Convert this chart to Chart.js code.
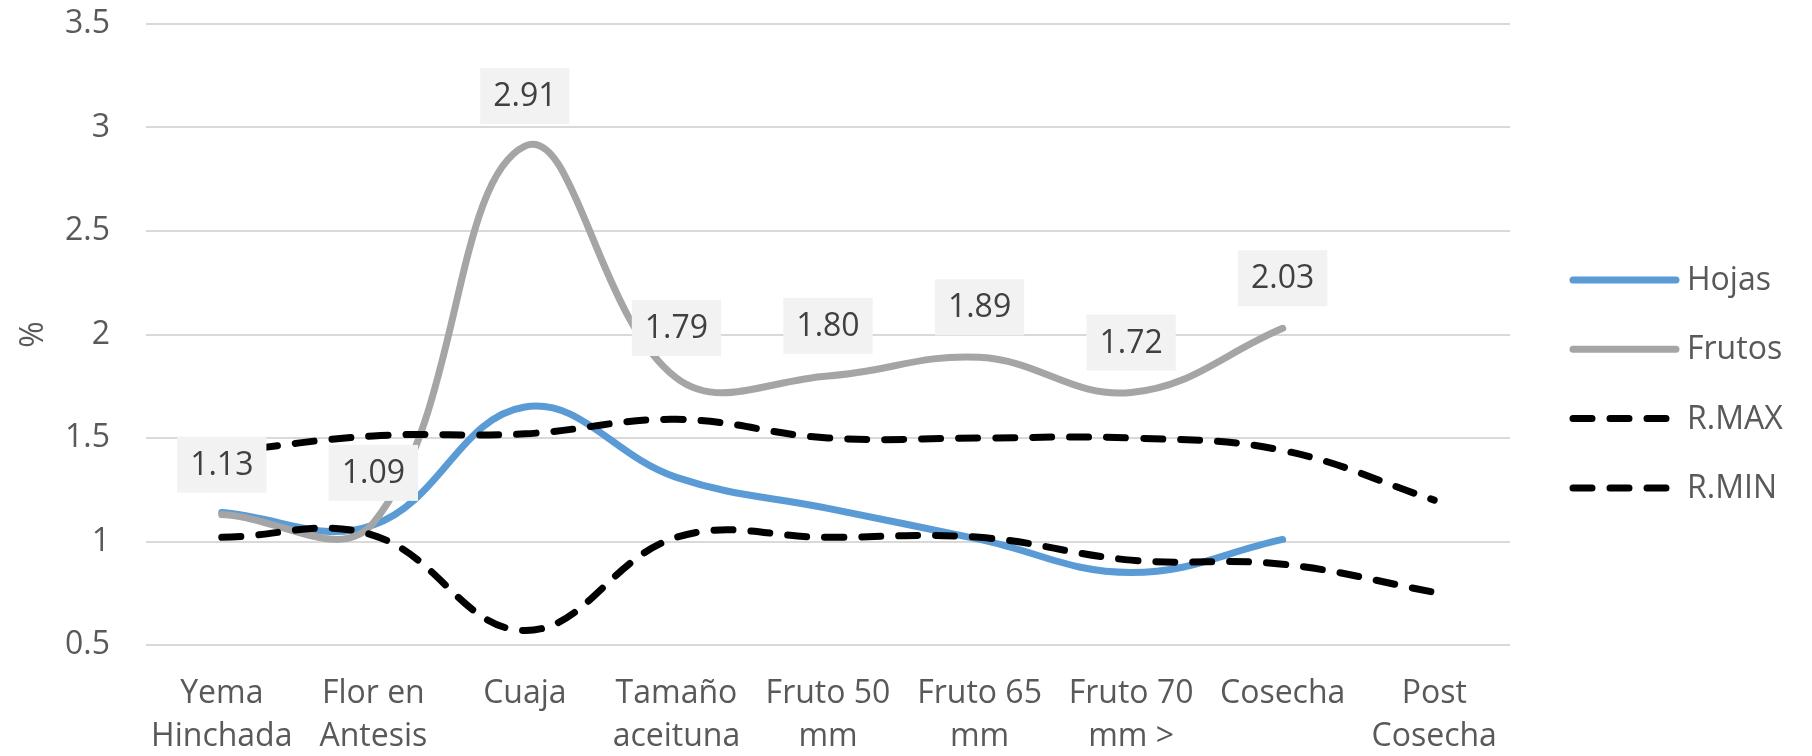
<!DOCTYPE html>
<html>
<head>
<meta charset="utf-8">
<script src="https://cdn.jsdelivr.net/npm/chart.js@4.4.1/dist/chart.umd.min.js"></script>
<style>
  html, body { margin: 0; padding: 0; background: #fff; }
  #wrap { width: 1812px; height: 756px; }
</style>
</head>
<body>
<div id="wrap"><canvas id="nutrientChart"></canvas></div>
<script>
// Etapas fenológicas (eje X)
const etapas = [
    ['Yema', 'Hinchada'], ['Flor en', 'Antesis'], 'Cuaja', ['Tamaño', 'aceituna'],
    ['Fruto 50', 'mm'], ['Fruto 65', 'mm'], ['Fruto 70', 'mm >'], 'Cosecha', ['Post', 'Cosecha']
];

// Concentración (%) por etapa
const hojas  = [1.14, 1.08, 1.65, 1.31, 1.16, 1.01, 0.85, 1.01, null];
const frutos = [1.13, 1.09, 2.91, 1.79, 1.80, 1.89, 1.72, 2.03, null];
const rMax   = [1.43, 1.51, 1.52, 1.59, 1.50, 1.50, 1.50, 1.44, 1.20];
const rMin   = [1.02, 1.03, 0.57, 1.02, 1.02, 1.02, 0.91, 0.89, 0.755];

// Eje Y
const yMin = 0.5;
const yMax = 3.5;
const yStep = 0.5;

const fuente = '"Open Sans", "Liberation Sans", sans-serif';
const tamFuente = 32;
const grisTexto = '#595959';

// Etiquetas de valor sobre la serie Frutos
const etiquetasFrutos = {
    id: 'etiquetasFrutos',
    afterDatasetsDraw(chart) {
        const meta = chart.getDatasetMeta(1);
        const valores = chart.data.datasets[1].data;
        const ctx = chart.ctx;
        ctx.save();
        ctx.font = tamFuente + 'px ' + fuente;
        ctx.textAlign = 'center';
        ctx.textBaseline = 'middle';
        meta.data.forEach((pt, i) => {
            const v = valores[i];
            if (v === null || v === undefined) return;
            const txt = v.toFixed(2);
            const w = ctx.measureText(txt).width + 26;
            const h = 56;
            const cx = pt.x;
            const cy = pt.y - 50;
            ctx.fillStyle = '#f2f2f2';
            ctx.fillRect(cx - w / 2, cy - h / 2, w, h);
            ctx.fillStyle = '#404040';
            ctx.fillText(txt, cx, cy + 1);
        });
        ctx.restore();
    }
};

// Leyenda a la derecha del gráfico
const leyenda = {
    id: 'leyenda',
    afterDraw(chart) {
        const ctx = chart.ctx;
        const area = chart.chartArea;
        const x0 = area.right + 63;
        const x1 = x0 + 103;
        ctx.save();
        ctx.font = tamFuente + 'px ' + fuente;
        ctx.textBaseline = 'middle';
        ctx.textAlign = 'left';
        chart.data.datasets.forEach((ds, i) => {
            const y = 280 + i * 69.3;
            ctx.strokeStyle = ds.borderColor;
            ctx.lineWidth = ds.borderWidth;
            ctx.lineCap = 'round';
            ctx.setLineDash(ds.borderDash || []);
            ctx.beginPath();
            ctx.moveTo(x0, y);
            ctx.lineTo(x1, y);
            ctx.stroke();
            ctx.setLineDash([]);
            ctx.fillStyle = grisTexto;
            ctx.fillText(ds.label, x1 + 11, y + 1);
        });
        ctx.restore();
    }
};

const ctx = document.getElementById('nutrientChart');

const lineaBase = {
    borderWidth: 7,
    pointRadius: 0,
    pointHoverRadius: 0,
    tension: 0.4,
    borderCapStyle: 'round',
    borderJoinStyle: 'round',
    fill: false
};

new Chart(ctx, {
    type: 'line',
    data: {
        labels: etapas,
        datasets: [
            { ...lineaBase, label: 'Hojas', data: hojas, borderColor: '#5b9bd5', order: 4 },
            { ...lineaBase, label: 'Frutos', data: frutos, borderColor: '#a5a5a5', order: 3 },
            { ...lineaBase, label: 'R.MAX', data: rMax, borderColor: '#000000', borderDash: [19, 18], order: 2 },
            { ...lineaBase, label: 'R.MIN', data: rMin, borderColor: '#000000', borderDash: [19, 18], order: 1 }
        ]
    },
    options: {
        responsive: true,
        maintainAspectRatio: false,
        animation: false,
        layout: {
            autoPadding: false,
            padding: { top: 24, right: 302, bottom: 0, left: 0 }
        },
        scales: {
            x: {
                offset: true,
                afterFit(scale) { scale.height = 111; },
                grid: { display: false, drawTicks: false },
                border: { display: false },
                ticks: {
                    color: grisTexto,
                    font: { family: fuente, size: tamFuente, lineHeight: 1.35 },
                    padding: 27,
                    maxRotation: 0,
                    autoSkip: false
                }
            },
            y: {
                min: yMin,
                max: yMax,
                afterFit(scale) { scale.width = 146; },
                // marcas de graduación invisibles: solo separan las etiquetas de la rejilla
                grid: { color: '#d9d9d9', lineWidth: 2, drawTicks: true, tickLength: 36, tickColor: 'rgba(0,0,0,0)' },
                border: { display: false },
                ticks: {
                    stepSize: yStep,
                    color: grisTexto,
                    font: { family: fuente, size: tamFuente },
                    padding: 0,
                    callback: value => String(Number(value))
                },
                title: {
                    display: true,
                    text: '%',
                    color: grisTexto,
                    font: { family: fuente, size: tamFuente },
                    padding: { top: 15, bottom: 0 }
                }
            }
        },
        plugins: {
            legend: { display: false },
            tooltip: { enabled: false }
        }
    },
    plugins: [etiquetasFrutos, leyenda]
});
</script>
</body>
</html>
